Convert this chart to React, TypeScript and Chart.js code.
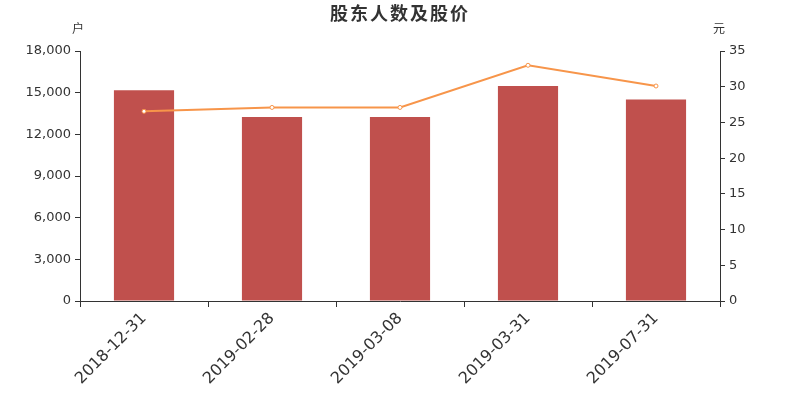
import React, { useEffect, useRef } from "react";
import { Chart, registerables } from "chart.js";

Chart.register(...registerables);

const categories = ["2018-12-31", "2019-02-28", "2019-03-08", "2019-03-31", "2019-07-31"];
const holders = [15170, 13250, 13250, 15480, 14500];
const prices = [26.55, 27.1, 27.1, 33.0, 30.1];
const leftTicks = [0, 3000, 6000, 9000, 12000, 15000, 18000];
const rightTicks = [0, 5, 10, 15, 20, 25, 30, 35];
const titleText = "股东人数及股价";
const leftUnit = "户";
const rightUnit = "元";

const FONT = "'DejaVu Sans', 'Noto Sans CJK SC', sans-serif";

const decorPlugin = {
  id: "decor",
  afterDraw(chart: any) {
    const ctx = chart.ctx;
    const area = chart.chartArea;
    ctx.save();
    ctx.fillStyle = "#333";
    ctx.textAlign = "center";
    ctx.textBaseline = "middle";
    ctx.font = `bold 18px ${FONT}`;
    try { (ctx as any).letterSpacing = "2px"; } catch (e) {}
    ctx.fillText(titleText, 400, 15);
    try { (ctx as any).letterSpacing = "0px"; } catch (e) {}
    ctx.font = `12px ${FONT}`;
    ctx.fillText(leftUnit, area.left - 2, 30);
    ctx.fillText(rightUnit, area.right - 1, 30);
    ctx.restore();
  },
};

export default function App() {
  const ref = useRef<HTMLCanvasElement>(null);
  useEffect(() => {
    const chart = new Chart(ref.current!, {
      type: "bar",
      data: {
        labels: categories,
        datasets: [
          {
            type: "line",
            data: prices,
            yAxisID: "y1",
            borderColor: "#f7954a",
            backgroundColor: "#ffffff",
            borderWidth: 2,
            pointRadius: 2,
            pointBorderWidth: 1,
            pointBorderColor: "#f7954a",
            pointBackgroundColor: "#ffffff",
            tension: 0,
            order: 0,
          } as any,
          {
            type: "bar",
            data: holders,
            yAxisID: "y",
            backgroundColor: "#c0504d",
            barPercentage: 0.94,
            categoryPercentage: 0.5,
            order: 1,
          },
        ],
      },
      options: {
        responsive: false,
        animation: false,
        layout: { padding: { top: 51, left: 0, right: 0, bottom: 0 } },
        plugins: { legend: { display: false }, tooltip: { enabled: false }, title: { display: false } },
        scales: {
          x: {
            offset: true,
            grid: { display: true, drawOnChartArea: false, tickLength: 6, color: "#333", offset: true },
            border: { color: "#333", width: 1 },
            ticks: { color: "#333", font: { size: 16, family: FONT }, maxRotation: 45, minRotation: 45, padding: 2 },
            afterFit(scale: any) { scale.height = 99; },
          },
          y: {
            position: "left",
            min: 0,
            max: 18000,
            afterBuildTicks(scale: any) { scale.ticks = leftTicks.map((v) => ({ value: v })); },
            grid: { display: true, drawOnChartArea: false, tickLength: 5, color: "#333" },
            border: { color: "#333", width: 1 },
            ticks: {
              color: "#333",
              font: { size: 13, family: FONT },
              padding: 4,
              callback: (v: any) => Number(v).toLocaleString("en-US"),
            },
            afterFit(scale: any) { scale.width = 80; },
          },
          y1: {
            position: "right",
            min: 0,
            max: 35,
            afterBuildTicks(scale: any) { scale.ticks = rightTicks.map((v) => ({ value: v })); },
            grid: { display: true, drawOnChartArea: false, tickLength: 5, color: "#333" },
            border: { color: "#333", width: 1 },
            ticks: { color: "#333", font: { size: 13, family: FONT }, padding: 4 },
            afterFit(scale: any) { scale.width = 80; },
          },
        },
      },
      plugins: [decorPlugin],
    });
    return () => chart.destroy();
  }, []);
  return (
    <div style={{ position: "absolute", left: 0, top: 0, width: 800, height: 400, background: "#fff" }}>
      <canvas ref={ref} width={800} height={400} style={{ width: 800, height: 400 }} />
    </div>
  );
}
